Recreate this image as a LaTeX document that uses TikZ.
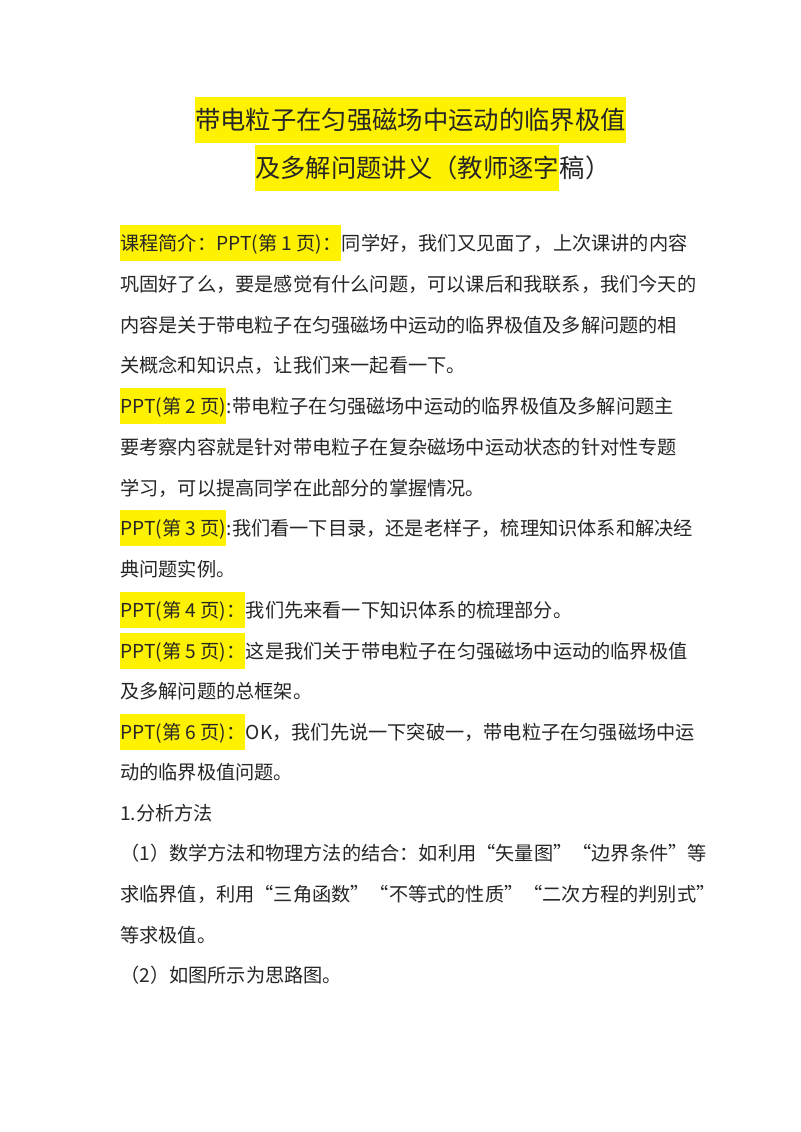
\documentclass[tikz,border=0pt]{standalone}
\usepackage{fontspec}
\setmainfont{Noto Sans CJK SC}
\begin{document}
\begin{tikzpicture}[x=0.75pt,y=-0.75pt,
  ln/.style={anchor=west,inner xsep=0pt,inner ysep=0pt,text height=12.6pt,text depth=2pt,font=\fontsize{14.4pt}{16pt}\selectfont,text=black!85},
  hl/.style={ln,fill=yellow,inner ysep=6pt},
  tl/.style={anchor=west,inner xsep=0pt,inner ysep=0pt,text height=17pt,text depth=3pt,font=\fontsize{19pt}{22pt}\selectfont,text=black!85},
  thl/.style={tl,fill=yellow,inner ysep=7.5pt}]
\useasboundingbox[fill=white] (0,0) rectangle (800,1132);
\node[thl] (t1) at (195,120) {带电粒子在匀强磁场中运动的临界极值};
\node[thl] (t2) at (255,168) {及多解问题讲义（教师逐字};
\node[tl] (t2b) at (t2.east) {稿）};
\node[hl] (a1) at (120,243) {课程简介：PPT(第 1 页)：};
\node[ln] (a1b) at (a1.east) {同学好，我们又见面了，上次课讲的内容};
\node[ln] (a2) at (120,284) {巩固好了么，要是感觉有什么问题，可以课后和我联系，我们今天的};
\node[ln] (a3) at (120,325) {内容是关于带电粒子在匀强磁场中运动的临界极值及多解问题的相};
\node[ln] (a4) at (120,365) {关概念和知识点，让我们来一起看一下。};
\node[hl] (b1) at (120,406) {PPT(第 2 页)};
\node[ln] (b1b) at (b1.east) {:带电粒子在匀强磁场中运动的临界极值及多解问题主};
\node[ln] (b2) at (120,447) {要考察内容就是针对带电粒子在复杂磁场中运动状态的针对性专题};
\node[ln] (b3) at (120,488) {学习，可以提高同学在此部分的掌握情况。};
\node[hl] (c1) at (120,528) {PPT(第 3 页)};
\node[ln] (c1b) at (c1.east) {:我们看一下目录，还是老样子，梳理知识体系和解决经};
\node[ln] (c2) at (120,569) {典问题实例。};
\node[hl] (d1) at (120,610) {PPT(第 4 页)：};
\node[ln] (d1b) at (d1.east) {我们先来看一下知识体系的梳理部分。};
\node[hl] (e1) at (120,651) {PPT(第 5 页)：};
\node[ln] (e1b) at (e1.east) {这是我们关于带电粒子在匀强磁场中运动的临界极值};
\node[ln] (e2) at (120,691) {及多解问题的总框架。};
\node[hl] (f1) at (120,732) {PPT(第 6 页)：};
\node[ln] (f1b) at (f1.east) {OK，我们先说一下突破一，带电粒子在匀强磁场中运};
\node[ln] (f2) at (120,772) {动的临界极值问题。};
\node[ln] (g1) at (120,813) {1.分析方法};
\node[ln] (g2) at (120,853) {（1）数学方法和物理方法的结合：如利用“矢量图”“边界条件”等};
\node[ln] (g3) at (120,894) {求临界值，利用“三角函数”“不等式的性质”“二次方程的判别式”};
\node[ln] (g4) at (120,935) {等求极值。};
\node[ln] (g5) at (120,975) {（2）如图所示为思路图。};
\end{tikzpicture}
\end{document}
